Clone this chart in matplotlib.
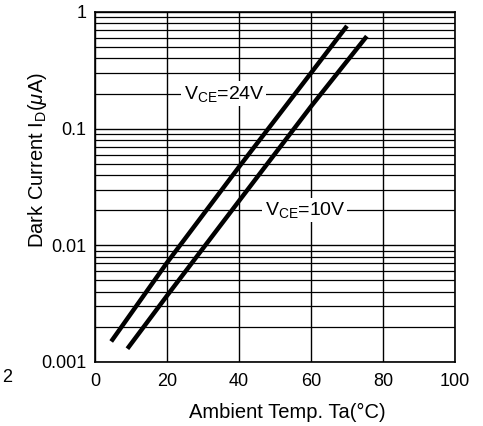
import matplotlib
matplotlib.use("Agg")
import matplotlib.pyplot as plt
import numpy as np
from matplotlib.ticker import FixedLocator, LogLocator, NullFormatter

plt.rcParams['font.family'] = ['Liberation Sans', 'DejaVu Sans']
plt.rcParams['mathtext.fontset'] = 'custom'
plt.rcParams['mathtext.rm'] = 'Liberation Sans'
plt.rcParams['mathtext.it'] = 'Liberation Sans:italic'

# dark current vs ambient temperature
temp_24v = [4.5, 20, 40, 60, 70]
id_24v = [0.0015, 0.0071, 0.047, 0.30, 0.76]
temp_10v = [9, 20, 40, 60, 75.5]
id_10v = [0.0013, 0.0037, 0.024, 0.155, 0.62]

x_ticks = [0, 20, 40, 60, 80, 100]
y_ticks = [0.001, 0.01, 0.1, 1]
y_labels = ['0.001', '0.01', '0.1', '1']


def main():
    fig = plt.figure(figsize=(4.83, 4.26), dpi=100)
    ax = fig.add_axes([95 / 483, 64 / 426, 360 / 483, 350 / 426])

    ax.plot(temp_24v, id_24v, color='black', lw=3.2, solid_capstyle='butt')
    ax.plot(temp_10v, id_10v, color='black', lw=3.2, solid_capstyle='butt')

    ax.set_yscale('log')
    ax.set_xlim(0, 100)
    ax.set_ylim(0.001, 1)
    ax.set_xticks(x_ticks)
    ax.set_yticks(y_ticks)
    ax.set_yticklabels(y_labels)
    ax.yaxis.set_minor_locator(LogLocator(base=10, subs=np.arange(2, 10)))
    ax.yaxis.set_minor_formatter(NullFormatter())
    ax.xaxis.set_minor_locator(FixedLocator([]))
    ax.tick_params(which='both', length=0, labelsize=13)
    ax.tick_params(axis='y', pad=6)
    ax.tick_params(axis='x', pad=8)

    ax.grid(True, which='major', color='black', lw=1.0)
    ax.grid(True, which='minor', axis='y', color='black', lw=0.9)
    for sp in ax.spines.values():
        sp.set_linewidth(1.2)

    ax.text(35.8, 0.2, 'V$_{\\mathrm{CE}}$=24V', ha='center', va='center', fontsize=14,
            bbox=dict(facecolor='white', edgecolor='none', pad=1.5))
    ax.text(58.3, 0.02, 'V$_{\\mathrm{CE}}$=10V', ha='center', va='center', fontsize=14,
            bbox=dict(facecolor='white', edgecolor='none', pad=1.5))

    ax.set_xlabel('Ambient Temp. Ta(°C)', fontsize=14.5, va='center')
    ax.xaxis.set_label_coords(0.533, -0.143)
    ax.set_ylabel('Dark Current I$_{\\mathrm{D}}$($\\mathit{\\mu}$A)', fontsize=14.5, va='center')
    ax.yaxis.set_label_coords(-0.161, 0.577)

    fig.text(2 / 483, 1 - 378 / 426, '2', fontsize=13, va='center', ha='left')

    fig.savefig('out.png', dpi=100)


if __name__ == '__main__':
    main()
